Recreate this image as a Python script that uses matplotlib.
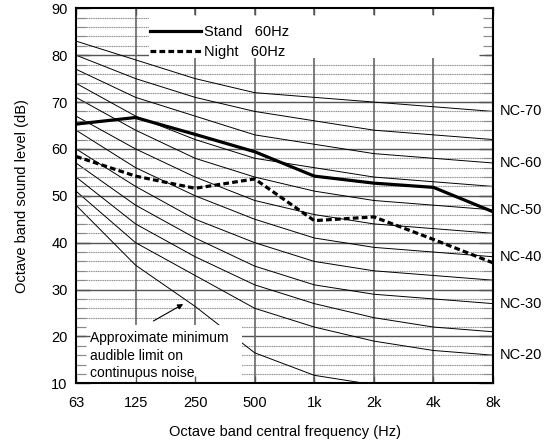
import matplotlib
matplotlib.use('Agg')
import matplotlib.pyplot as plt
from matplotlib.lines import Line2D
from matplotlib.patches import Rectangle

plt.rcParams['font.family'] = ['Liberation Sans', 'DejaVu Sans']
plt.rcParams['font.size'] = 10.5

# octave bands
bands = ['63', '125', '250', '500', '1k', '2k', '4k', '8k']

# NC curves (dB per octave band)
nc_levels = [20, 25, 30, 35, 40, 45, 50, 55, 60, 65, 70]
nc_values = {
    20: [51, 40, 33, 26, 22, 19, 17, 16],
    25: [54, 44, 37, 31, 27, 24, 22, 21],
    30: [57, 48, 41, 35, 31, 29, 28, 27],
    35: [60, 52, 45, 40, 36, 34, 33, 32],
    40: [64, 56, 50, 45, 41, 39, 38, 37],
    45: [67, 60, 54, 49, 46, 44, 43, 42],
    50: [71, 64, 58, 54, 51, 49, 48, 47],
    55: [74, 67, 62, 58, 56, 54, 53, 52],
    60: [77, 71, 67, 63, 61, 59, 58, 57],
    65: [80, 75, 71, 68, 66, 64, 63, 62],
    70: [83, 79, 75, 72, 71, 70, 69, 68],
}
nc_labelled = [70, 60, 50, 40, 30, 20]

# approximate threshold of hearing (first six bands)
threshold = [48, 35.2, 26.4, 16.5, 11.7, 9.7]

# measurements
stand = [65.3, 66.7, 63.1, 59.4, 54.2, 52.7, 51.8, 46.6]
night = [58.4, 54.2, 51.6, 53.6, 44.7, 45.5, 40.7, 35.7]

x = list(range(len(bands)))

fig = plt.figure(figsize=(5.53, 4.46), dpi=100)
ax = fig.add_axes([76 / 553, 1 - 383.3 / 446, 417 / 553, 375 / 446])
ax.set_xlim(0, 7)
ax.set_ylim(10, 90)

# grid drawn by hand so the ticks can sit above the white boxes
for v in range(12, 90, 2):
    if v % 10:
        ax.axhline(v, color='#8a8a8a', lw=0.8, ls=(0, (1, 0.6)), zorder=0.5)
for v in range(20, 90, 10):
    ax.axhline(v, color='#555555', lw=1.0, zorder=0.6)
for xi in x[1:-1]:
    ax.axvline(xi, color='#666666', lw=1.2, zorder=0.6)

for lev in nc_levels:
    ax.plot(x, nc_values[lev], color='black', lw=0.7, zorder=1)
ax.plot(x[:len(threshold)], threshold, color='black', lw=0.7, zorder=1)

for lev in nc_labelled:
    ax.text(7.12, nc_values[lev][-1], 'NC-%d' % lev, ha='left', va='center',
            clip_on=False)

# white boxes behind legend and note
ax.add_patch(Rectangle((0.174, 0.8675), 0.807, 0.1155, transform=ax.transAxes,
                       facecolor='white', edgecolor='none', zorder=2))
ax.add_patch(Rectangle((0.168, 10), 2.612, 12.5, facecolor='white',
                       edgecolor='none', zorder=2))

ax.text(0.235, 15.9, 'Approximate minimum\naudible limit on\ncontinuous noise',
        ha='left', va='center', fontsize=10, linespacing=1.35, zorder=3)
ax.annotate('', xy=(1.80, 26.9), xytext=(1.30, 23.3),
            arrowprops=dict(arrowstyle='-|>', color='black', lw=0.8,
                            mutation_scale=8, shrinkA=0, shrinkB=0), zorder=3)

ax.plot(x, stand, color='black', lw=2.3, zorder=3)
ax.plot(x, night, color='black', lw=2.3, dashes=(1.8, 1.0), zorder=3)

handles = [Line2D([], [], color='black', lw=2.3),
           Line2D([], [], color='black', lw=2.3, dashes=(1.8, 1.0))]
leg = ax.legend(handles, ['Stand   60Hz', 'Night   60Hz'], loc='upper left',
                bbox_to_anchor=(0.1775, 0.955), frameon=False,
                handlelength=3.5, handletextpad=0.2, borderpad=0,
                borderaxespad=0, labelspacing=0.38)
leg.set_zorder(4)

ax.set_axisbelow(False)
ax.set_xticks(x)
ax.set_xticklabels(bands)
ax.set_yticks(range(10, 91, 10))
ax.set_yticks(range(10, 91, 2), minor=True)
ax.tick_params(axis='x', direction='in', length=5, width=1, color='#555555',
               top=True, pad=9)
ax.tick_params(axis='y', which='major', direction='in', length=10, width=1,
               color='#555555', right=True, pad=6)
ax.tick_params(axis='y', which='minor', direction='in', length=7, width=0.8,
               color='#8a8a8a', right=True)
for s in ax.spines.values():
    s.set_linewidth(1.5)
    s.set_zorder(5)

fig.text(22 / 553, 1 - 196 / 446, 'Octave band sound level (dB)', rotation=90,
         ha='center', va='center')
fig.text(285 / 553, 1 - 431.7 / 446, 'Octave band central frequency (Hz)',
         ha='center', va='center')

fig.savefig('out.png', dpi=100)
